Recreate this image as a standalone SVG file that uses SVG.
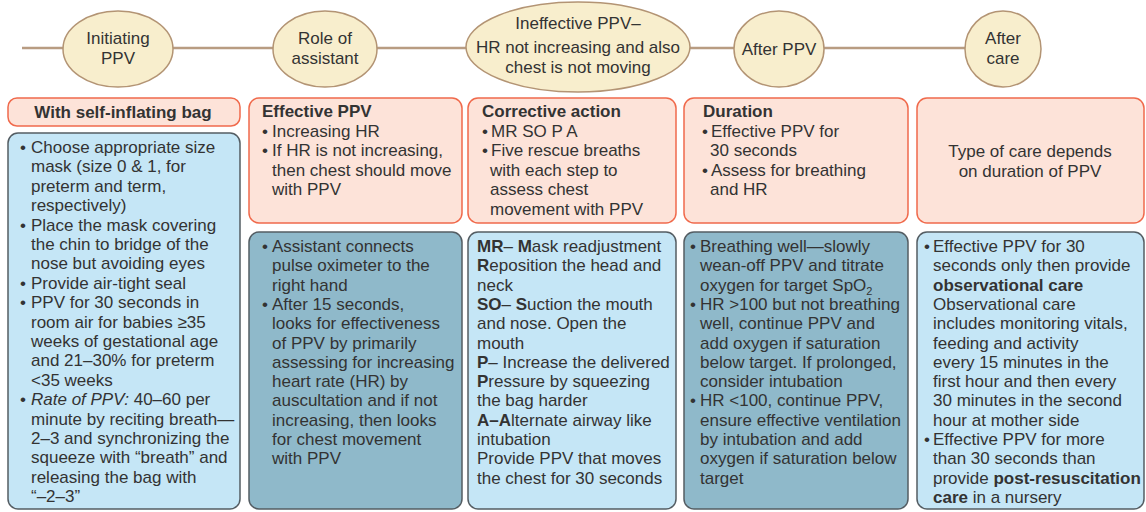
<svg xmlns="http://www.w3.org/2000/svg" width="1146" height="512" viewBox="0 0 1146 512">
<style>
.t{font-family:"Liberation Sans",Arial,Helvetica,sans-serif;font-size:17px;fill:#333}
.b{font-weight:bold}
.i{font-style:italic}
.c{text-anchor:middle}
.pink{fill:#fde3d9;stroke:#f06a4c;stroke-width:1.5}
.lb{fill:#c5e6f6;stroke:#545d63;stroke-width:1.5}
.db{fill:#8fb9ca;stroke:#545d63;stroke-width:1.5}
.ell{fill:#f8eecd;stroke:#b39474;stroke-width:1.5}
.conn{stroke:#b89c82;stroke-width:2.5;fill:none}
</style>
<rect width="1146" height="512" fill="#ffffff"/>
<g id="connectors">
<line class="conn" x1="22" y1="48" x2="966" y2="48"/>
</g>
<g id="node-initiating">
<ellipse class="ell" cx="118" cy="49" rx="55" ry="38"/>
<text class="t c"><tspan x="118" y="44">Initiating</tspan><tspan x="118" y="64">PPV</tspan></text>
</g>
<g id="node-role">
<ellipse class="ell" cx="325" cy="49" rx="52" ry="38"/>
<text class="t c"><tspan x="325" y="44">Role of</tspan><tspan x="325" y="64">assistant</tspan></text>
</g>
<g id="node-ineffective">
<ellipse class="ell" cx="578" cy="47" rx="112" ry="45"/>
<text class="t c"><tspan x="578" y="29">Ineffective PPV–</tspan><tspan x="578" y="53">HR not increasing and also</tspan><tspan x="578" y="73">chest is not moving</tspan></text>
</g>
<g id="node-afterppv">
<ellipse class="ell" cx="779" cy="49" rx="45" ry="38"/>
<text class="t c"><tspan x="779" y="55">After PPV</tspan></text>
</g>
<g id="node-aftercare">
<ellipse class="ell" cx="1003" cy="49" rx="38" ry="38"/>
<text class="t c"><tspan x="1003" y="44">After</tspan><tspan x="1003" y="64">care</tspan></text>
</g>

<g id="col1-head">
<rect class="pink" x="8" y="98" width="232" height="28" rx="9"/>
<text class="t b c" x="123" y="118">With self-inflating bag</text>
</g>
<g id="col1-body">
<rect class="lb" x="8" y="133" width="232" height="376" rx="10"/>
<text class="t"><tspan x="20" y="153">•</tspan><tspan x="20" y="230.6">•</tspan><tspan x="20" y="288.8">•</tspan><tspan x="20" y="308.2">•</tspan><tspan x="20" y="405.2">•</tspan></text>
<text class="t">
<tspan x="31" y="153">Choose appropriate size</tspan>
<tspan x="31" y="172.4">mask (size 0 &amp; 1, for</tspan>
<tspan x="31" y="191.8">preterm and term,</tspan>
<tspan x="31" y="211.2">respectively)</tspan>
<tspan x="31" y="230.6">Place the mask covering</tspan>
<tspan x="31" y="250">the chin to bridge of the</tspan>
<tspan x="31" y="269.4">nose but avoiding eyes</tspan>
<tspan x="31" y="288.8">Provide air-tight seal</tspan>
<tspan x="31" y="308.2">PPV for 30 seconds in</tspan>
<tspan x="31" y="327.6">room air for babies ≥35</tspan>
<tspan x="31" y="347">weeks of gestational age</tspan>
<tspan x="31" y="366.4">and 21–30% for preterm</tspan>
<tspan x="31" y="385.8">&lt;35 weeks</tspan>
<tspan x="31" y="405.2"><tspan class="i">Rate of PPV:</tspan> 40–60 per</tspan>
<tspan x="31" y="424.6">minute by reciting breath—</tspan>
<tspan x="31" y="444">2–3 and synchronizing the</tspan>
<tspan x="31" y="463.4">squeeze with “breath” and</tspan>
<tspan x="31" y="482.8">releasing the bag with</tspan>
<tspan x="31" y="502.2">“–2–3”</tspan>
</text>
</g>

<g id="col2-head">
<rect class="pink" x="249" y="98" width="213" height="125" rx="10"/>
<text class="t"><tspan class="b" x="262" y="117">Effective PPV</tspan><tspan x="262" y="136.5">•</tspan><tspan x="272" y="136.5">Increasing HR</tspan><tspan x="262" y="156">•</tspan><tspan x="272" y="156">If HR is not increasing,</tspan><tspan x="272" y="175.5">then chest should move</tspan><tspan x="272" y="195">with PPV</tspan></text>
</g>
<g id="col2-body">
<rect class="db" x="249" y="232" width="213" height="277" rx="10"/>
<text class="t"><tspan x="262" y="252">•</tspan><tspan x="262" y="309.9">•</tspan></text>
<text class="t">
<tspan x="272" y="252">Assistant connects</tspan>
<tspan x="272" y="271.3">pulse oximeter to the</tspan>
<tspan x="272" y="290.6">right hand</tspan>
<tspan x="272" y="309.9">After 15 seconds,</tspan>
<tspan x="272" y="329.2">looks for effectiveness</tspan>
<tspan x="272" y="348.5">of PPV by primarily</tspan>
<tspan x="272" y="367.8">assessing for increasing</tspan>
<tspan x="272" y="387.1">heart rate (HR) by</tspan>
<tspan x="272" y="406.4">auscultation and if not</tspan>
<tspan x="272" y="425.7">increasing, then looks</tspan>
<tspan x="272" y="445">for chest movement</tspan>
<tspan x="272" y="464.3">with PPV</tspan>
</text>
</g>

<g id="col3-head">
<rect class="pink" x="468" y="98" width="208" height="125" rx="10"/>
<text class="t"><tspan class="b" x="482" y="117">Corrective action</tspan><tspan x="482" y="136.5">•</tspan><tspan x="491" y="136.5">MR SO P A</tspan><tspan x="482" y="156">•</tspan><tspan x="491" y="156">Five rescue breaths</tspan><tspan x="490" y="175.5">with each step to</tspan><tspan x="490" y="195">assess chest</tspan><tspan x="490" y="214.5">movement with PPV</tspan></text>
</g>
<g id="col3-body">
<rect class="lb" x="468" y="232" width="208" height="277" rx="10"/>
<text class="t">
<tspan x="477" y="252"><tspan class="b">MR</tspan>– <tspan class="b">M</tspan>ask readjustment</tspan>
<tspan x="477" y="271.3"><tspan class="b">R</tspan>eposition the head and</tspan>
<tspan x="477" y="290.6">neck</tspan>
<tspan x="477" y="309.9"><tspan class="b">SO</tspan>– <tspan class="b">S</tspan>uction the mouth</tspan>
<tspan x="477" y="329.2">and nose. Open the</tspan>
<tspan x="477" y="348.5">mouth</tspan>
<tspan x="477" y="367.8"><tspan class="b">P</tspan>– Increase the delivered</tspan>
<tspan x="477" y="387.1"><tspan class="b">P</tspan>ressure by squeezing</tspan>
<tspan x="477" y="406.4">the bag harder</tspan>
<tspan x="477" y="425.7"><tspan class="b">A–A</tspan>lternate airway like</tspan>
<tspan x="477" y="445">intubation</tspan>
<tspan x="477" y="464.3">Provide PPV that moves</tspan>
<tspan x="477" y="483.6">the chest for 30 seconds</tspan>
</text>
</g>

<g id="col4-head">
<rect class="pink" x="684" y="98" width="224" height="125" rx="10"/>
<text class="t"><tspan class="b" x="703" y="117">Duration</tspan><tspan x="702" y="136.5">•</tspan><tspan x="711" y="136.5">Effective PPV for</tspan><tspan x="710" y="156">30 seconds</tspan><tspan x="702" y="175.5">•</tspan><tspan x="711" y="175.5">Assess for breathing</tspan><tspan x="710" y="195">and HR</tspan></text>
</g>
<g id="col4-body">
<rect class="db" x="684" y="232" width="224" height="277" rx="10"/>
<text class="t"><tspan x="690" y="252">•</tspan><tspan x="690" y="309.9">•</tspan><tspan x="690" y="406.4">•</tspan></text>
<text class="t">
<tspan x="700" y="252">Breathing well—slowly</tspan>
<tspan x="700" y="271.3">wean-off PPV and titrate</tspan>
<tspan x="700" y="290.6">oxygen for target SpO<tspan font-size="11" dy="4">2</tspan></tspan>
<tspan x="700" y="309.9">HR &gt;100 but not breathing</tspan>
<tspan x="700" y="329.2">well, continue PPV and</tspan>
<tspan x="700" y="348.5">add oxygen if saturation</tspan>
<tspan x="700" y="367.8">below target. If prolonged,</tspan>
<tspan x="700" y="387.1">consider intubation</tspan>
<tspan x="700" y="406.4">HR &lt;100, continue PPV,</tspan>
<tspan x="700" y="425.7">ensure effective ventilation</tspan>
<tspan x="700" y="445">by intubation and add</tspan>
<tspan x="700" y="464.3">oxygen if saturation below</tspan>
<tspan x="700" y="483.6">target</tspan>
</text>
</g>

<g id="col5-head">
<rect class="pink" x="917" y="98" width="227" height="125" rx="10"/>
<text class="t c"><tspan x="1030" y="157">Type of care depends</tspan><tspan x="1030" y="176.5">on duration of PPV</tspan></text>
</g>
<g id="col5-body">
<rect class="lb" x="917" y="232" width="227" height="277" rx="10"/>
<text class="t"><tspan x="924" y="252">•</tspan><tspan x="924" y="445">•</tspan></text>
<text class="t">
<tspan x="933" y="252">Effective PPV for 30</tspan>
<tspan x="933" y="271.3">seconds only then provide</tspan>
<tspan x="933" y="290.6" class="b">observational care</tspan>
<tspan x="933" y="309.9">Observational care</tspan>
<tspan x="933" y="329.2">includes monitoring vitals,</tspan>
<tspan x="933" y="348.5">feeding and activity</tspan>
<tspan x="933" y="367.8">every 15 minutes in the</tspan>
<tspan x="933" y="387.1">first hour and then every</tspan>
<tspan x="933" y="406.4">30 minutes in the second</tspan>
<tspan x="933" y="425.7">hour at mother side</tspan>
<tspan x="933" y="445">Effective PPV for more</tspan>
<tspan x="933" y="464.3">than 30 seconds than</tspan>
<tspan x="933" y="483.6">provide <tspan class="b">post-resuscitation</tspan></tspan>
<tspan x="933" y="502.9"><tspan class="b">care</tspan> in a nursery</tspan>
</text>
</g>
</svg>
